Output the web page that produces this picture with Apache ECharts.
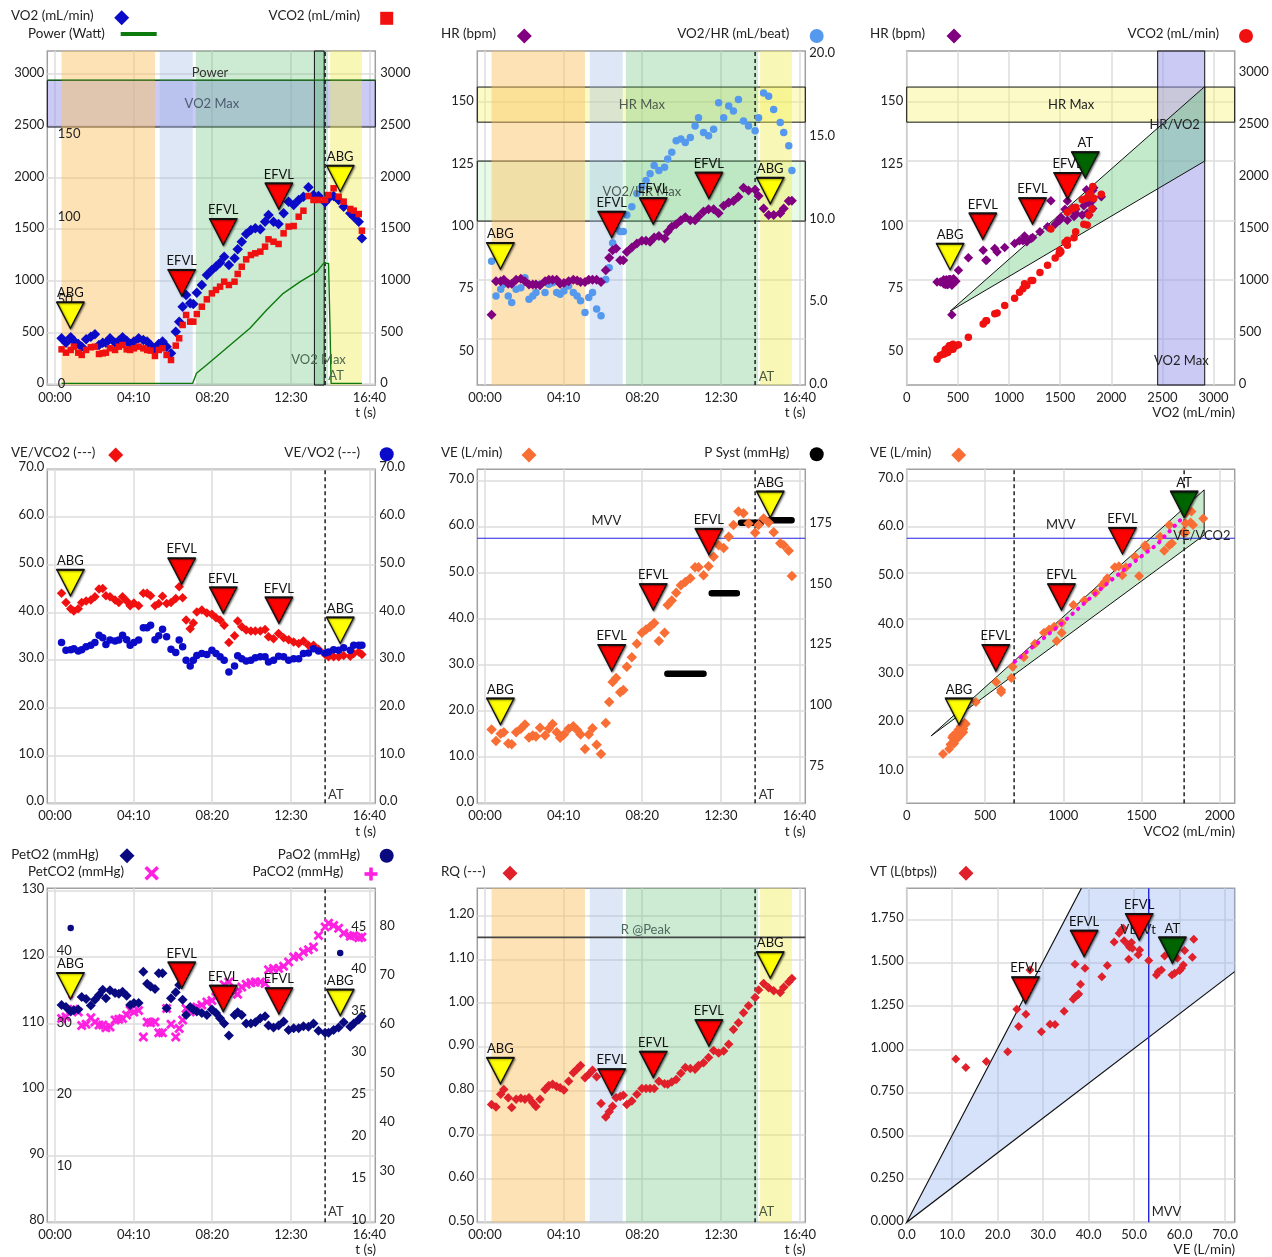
<!DOCTYPE html>
<html>
<head>
<meta charset="utf-8">
<title>CPET 9 panel</title>
<script src="https://cdn.jsdelivr.net/npm/echarts@6/dist/echarts.min.js"></script>
<style>
html, body { margin: 0; padding: 0; background: #fff; }
#container { width: 1272px; height: 1257px; }
</style>
</head>
<body>
<div id="container"></div>
<script>
var times = [21,35,50,60,74,85,99,114,127,140,152,162,175,191,203,215,228,239,251,266,281,293,304,318,330,342,355,369,384,395,406,417,430,440,451,467,483,499,512,525,538,553,571,581,594,608,623,637,653,668,679,695,711,727,743,759,775,790,806,822,838,859,870,886,902,918,939,950,966,976];
var vo2 = [442,400,452,419,387,361,432,458,481,377,400,400,442,400,419,452,419,387,410,442,426,410,377,329,387,410,361,297,506,603,748,861,781,774,884,958,1055,1103,1136,1174,1232,1152,1216,1303,1377,1452,1490,1507,1497,1571,1636,1571,1548,1652,1765,1732,1781,1813,1903,1829,1819,1758,1797,1819,1781,1716,1652,1619,1571,1410];
var vco2 = [335,303,329,361,303,281,329,355,361,290,297,303,345,329,361,377,335,329,345,361,345,329,323,271,329,345,281,232,371,442,571,668,603,603,677,748,819,877,910,942,990,958,990,1065,1135,1206,1248,1265,1281,1329,1400,1377,1355,1458,1523,1529,1619,1677,1819,1781,1781,1781,1829,1894,1813,1765,1694,1678,1645,1484];
var hr = [60.2,74.3,74.3,75,73.3,73.3,75,75.4,74.3,73,73,73,72.6,74.3,75,75,75,73.3,73.6,74.3,75,74.7,74,74,75,75,75,74,79,84.2,87.4,88.1,83.2,83.2,86.7,88.6,90.3,91.4,91.4,91,92.8,93.4,92.4,95.2,97.3,98.4,100.1,101.3,100.1,100.1,101.6,103.7,104.7,104.7,103,106.2,107.5,108.2,110,113.8,112.6,112.9,110.3,105,102.3,102.3,103,105,108.2,108.3];
var vo2hr = [7.4,5.3,5.7,6,5.3,4.9,5.7,5.8,6.4,5.1,5.3,5.5,6,5.5,6,6.1,5.5,5.4,5.6,5.9,5.5,5.3,5,4.3,5.2,5.5,4.5,4.1,6.3,7,8.5,9.4,9.2,9.2,10.2,10.7,11.5,11.9,12.3,12.7,13.2,12.9,13.1,13.6,14,14.7,14.8,14.6,14.9,15.6,16.1,15.2,15,15.4,17,16.1,16.8,16.5,17.2,15.9,15.6,15.3,16.1,17.6,17.4,16.6,15.8,15.2,14.4,12.9];
var veVco2 = [44,42.1,40.8,40.3,40.8,42.1,42.4,42.6,43.3,44.9,45,43.5,43.3,42.6,42.1,43.3,42.4,41.4,42,41.4,44,44,43.5,41.4,41.9,43.4,41.9,42.1,42.9,45.4,43.1,38.4,36.6,37.8,40.1,40.5,39.9,39.6,38.9,38.4,37.3,33.7,35.1,38.2,37,36.3,36.1,36.1,36.1,36.4,34.9,34.5,35.6,34.7,34.3,33.8,33.5,34,33.1,33.1,32.3,31.2,30.7,30.7,30.7,31,30.8,31.4,31.7,31.2];
var veVo2 = [33.7,32.1,32.2,32.4,31.9,32.2,32.8,33.1,33.7,35.2,34.7,33.3,34.2,34,34.2,35.2,34.3,33.1,33.7,34.2,36.8,36.8,37.3,34.3,35.1,36.5,34.9,32.3,31.6,34.2,32.8,30,28.8,30,31,31.4,31.2,32.1,31.4,30.7,30,27.5,28.8,30.9,30.3,29.8,30,30.5,30.7,30.7,29.6,30,30.8,30.7,30,30.3,30.3,31.4,31.5,32.4,31.9,31.5,31.7,32.2,32.1,32.6,32.1,33.1,33.1,33.1];
var ve = [16,13.5,15.1,15.4,13,12.8,15.4,16.2,17.1,14.3,14.7,14.5,16.4,14.7,16.2,17.2,15.4,14.2,14.9,16.2,16.7,15.9,14.9,11.8,14.9,16.3,12.7,10.7,17.4,22,26.3,27.2,24.1,24.6,29.6,31.7,34.6,37,37.7,38.3,39.1,35.2,37,43,44,45.7,47.3,48,48.8,51.2,51.2,49.5,51.4,53.5,56,55.4,57.8,60.4,63.3,62.9,60.7,58.7,60.4,61.8,60.9,58.8,56.4,56,54.8,49.3];
var petO2 = [112.8,112.5,111.8,112,112.1,114,113.7,112.7,113.6,114.3,115.1,113.8,115,114.6,114.5,114.8,114.2,112.8,113.1,113.1,117.8,116,115.6,115.2,117.6,117.6,112.3,113.8,114.7,115.8,113.6,111.3,112.5,112.1,111.8,111.6,111.3,112.1,111.6,110.8,110,108.2,111.3,111.7,111.3,110,110,110.2,110.8,111.1,109.7,109.4,109.7,110.3,109,109.3,109.3,109.6,109.5,110,108.9,108.6,108.6,109,109.4,110.2,109.5,110,110.6,111.1];
var petCo2 = [30.6,30.8,31.8,31.9,31.5,29.6,29.8,30.7,30.1,29.7,29.7,29.3,29.4,30.4,30.5,30.6,31.1,31.8,31.5,31.7,28,30.1,30,30.1,28.6,28.6,32,29.8,28,29.2,30.4,32,31.5,32,32.2,32.5,32.9,33.1,33.6,34.6,35.3,35.7,34.3,34,35,35.4,35.6,35.7,35.7,35.5,37.4,37.6,37.6,37.9,38.5,39.2,39.3,39.9,40.2,40.6,42.2,43.4,43.9,43.6,43.2,42.5,42.1,42.2,41.9,42];
var rq = [0.769,0.763,0.792,0.803,0.784,0.762,0.781,0.783,0.781,0.784,0.773,0.764,0.781,0.803,0.812,0.815,0.81,0.807,0.802,0.822,0.841,0.85,0.858,0.83,0.838,0.847,0.832,0.771,0.74,0.752,0.765,0.784,0.787,0.79,0.769,0.777,0.792,0.805,0.805,0.805,0.805,0.822,0.816,0.815,0.82,0.826,0.84,0.853,0.851,0.849,0.858,0.864,0.876,0.892,0.886,0.891,0.906,0.94,0.955,0.978,0.994,1.013,1.03,1.045,1.035,1.028,1.024,1.036,1.048,1.056];

// tidal volume panel has its own list of pairs
var vtVe = [10.8,13,17.5,22.2,24.2,24.6,26.2,27.1,29.6,31.5,32.6,34.6,36.6,37.1,37.6,37.8,38.2,37,39.2,42.9,44.1,45.6,46.7,47.2,47.6,47.8,48.7,48.8,49.4,49,49.6,50.9,51.2,53.2,54.9,55.3,56,56.7,58.3,58.9,59.5,60,60.4,60.8,61.1,62.8,63.1];
var vt = [0.944,0.896,0.93,0.986,1.233,1.133,1.204,1.46,1.102,1.146,1.144,1.221,1.29,1.306,1.315,1.321,1.377,1.493,1.47,1.42,1.485,1.622,1.672,1.691,1.701,1.629,1.604,1.522,1.618,1.591,1.585,1.547,1.575,1.514,1.431,1.45,1.46,1.541,1.431,1.441,1.527,1.456,1.47,1.489,1.572,1.533,1.637];

var powerT = [21,438,450,482,545,620,673,726,780,833,854,870,875,878,976];
var power = [0,0,6,11,21,33,44,54,61,67,72,72,30,0,0];
// blood pressure comes as four plateaus, null breaks the line between them
var pSystT = [580,695,700,721,801,806,814,877,885,898,975];
var pSyst = [112.8,112.8,null,146,146,null,175,175,null,176,176];
var paO2T = [50,907], paO2 = [79.5,74.4];
var paCo2T = [50], paCo2 = [36.7];
var regVco2 = [690,1000,1200,1400,1600,1746], regVe = [30.7,39.3,45.4,51,56.2,61.4];

// test phases and reference values
var phaseStart = [21,333,448,875], phaseEnd = [318,438,868,976];
var atTime = 859, atVco2 = [686,1772];
var vo2MaxBand = [2487,2939], vo2MaxX = [2454,2914], vo2MaxT = [825,856], powerMax = 182;
var hrMaxBand = [141.4,156.2], vo2hrMaxBand = [99.7,125], rPeak = 1.15, mvv = 57.5, mvvVt = 53.2;
var hrVo2Poly = [[424,61.7],[2914,156.4],[2914,125]];
var veVco2Poly = [[155,14.6],[1900,68],[1900,58.2]];
var veVtPoly = [[0,0],[38.4,1.932],[72.1,1.932],[72.1,1.45]];

// event triangles, one tip per panel
var eventT = [49,403,535,712,907], eventNames = ['ABG','EFVL','EFVL','EFVL','ABG'];
var eventVo2 = [539,852,1345,1690,1861], eventHr = [79.5,92.7,98.4,109.2,107];
var eventVeVco2 = [43.5,45.9,39.8,37.7,33.5], eventVe = [17.1,28.7,41.9,53.9,62];
var eventPetO2 = [113.7,115.3,111.8,111.4,111.2], eventRq = [0.816,0.79,0.83,0.902,1.057];
var xyNames = ['ABG','EFVL','EFVL','EFVL','AT'];
var ev3x = [424,744,1230,1573,1746], ev3y = [79.2,92,98.4,109,117.8];
var ev6x = [334,569,988,1378,1772], ev6y = [17.1,28.7,41.9,54.1,62];
var ev9x = [26.1,39,51.1,58.4], ev9y = [1.267,1.537,1.633,1.498], ev9Names = ['EFVL','EFVL','EFVL','AT'];

// tick labels
var timeTicks = [0,250,500,750,1000];
var flowTicks = [0,500,1000,1500,2000,2500,3000];
var powerTicks = [0,50,100,150,200];
var hrTicks = [50,75,100,125,150];
var o2pTicks = [0,5,10,15,20];
var pctTicks = [0,10,20,30,40,50,60,70];
var veTicks = [10,20,30,40,50,60,70];
var sysTicks = [75,100,125,150,175];
var vco2Ticks = [0,500,1000,1500,2000];
var petO2Ticks = [80,90,100,110,120,130];
var petCo2Ticks = [10,20,30,40];
var paO2Ticks = [20,30,40,50,60,70,80];
var paCo2Ticks = [10,15,20,25,30,35,40,45];
var rqTicks = [0.5,0.6,0.7,0.8,0.9,1,1.1,1.2];
var vtTicks = [0,0.25,0.5,0.75,1,1.25,1.5,1.75];
var veXTicks = [0,10,20,30,40,50,60,70];

var FONT = 'Lato', SIZE = 13, INK = '#222';
var T0 = -24.4, T1 = 1018.6;
var colX = [47.3,477.3,906.7], rowY = [51,469.3,888.3];
var RED = '#f01010', DIA_RED = '#e0202a', BLUE = '#0a0ac8', PURPLE = '#800080', SKY = '#5599ee', ORANGE = '#f86e35', NAVY = '#0a0a80', MAGENTA = '#ff20e0';
var CROSS = 'path://M2 0L5 3L8 0L10 2L7 5L10 8L8 10L5 7L2 10L0 8L3 5L0 2Z';
var LAVENDER = 'rgba(150,150,235,.5)', YELLOWBAND = 'rgba(248,245,110,.38)';
var phaseColors = ['rgba(251,190,90,.45)','rgba(150,180,225,.32)','rgba(90,190,110,.3)','rgba(240,235,70,.4)'];

var grids = [], xAxes = [], yAxes = [], series = [], graphics = [];
var gridLine = { color: '#dcdcdc', width: 1.5 };

function zip(xs, ys) { return xs.map(function (x, i) { return [x, ys[i]]; }); }
function mmss(v) {
    var m = Math.floor(v / 60), s = v % 60;
    return (m < 10 ? '0' : '') + m + ':' + (s < 10 ? '0' : '') + s;
}

function addPanel(col, row, x) {
    var g = grids.length;
    grids.push({ left: colX[col], top: rowY[row], width: 328, height: 334, show: true, borderColor: '#a0a0a0', borderWidth: 1.5, backgroundColor: 'transparent' });
    xAxes.push({
        gridIndex: g, type: 'value', position: 'bottom', min: x.min, max: x.max,
        axisLine: { show: false, onZero: false },
        axisTick: { show: false, customValues: x.values },
        splitLine: { show: true, lineStyle: gridLine },
        axisLabel: { customValues: x.values, margin: 6, color: INK, fontFamily: FONT, fontSize: SIZE, formatter: x.fmt }
    });
    return g;
}
function addY(g, o) {
    var label = {
        show: !o.hide, customValues: o.values, inside: !!o.inside, margin: o.margin || 4,
        color: INK, fontFamily: FONT, fontSize: SIZE,
        formatter: function (v) { return v.toFixed(o.dec || 0); }
    };
    // labels of some panels sit a little above their grid line
    if (o.shift) { label.verticalAlign = 'bottom'; label.lineHeight = o.shift * 2; }
    yAxes.push({
        gridIndex: g, type: 'value', position: o.side || 'left', min: o.min, max: o.max,
        z: o.inside ? 4 : 0,  // inner scales stay readable over the coloured phases
        axisLine: { show: false, onZero: false },
        axisTick: { show: false, customValues: o.values },
        splitLine: { show: !!o.grid, lineStyle: gridLine },
        axisLabel: label
    });
    return yAxes.length - 1;
}
function timeX() { return { min: T0, max: T1, values: timeTicks, fmt: mmss }; }

function marks(g, y, xs, ys, symbol, size, color) {
    series.push({ type: 'scatter', xAxisIndex: g, yAxisIndex: y, data: zip(xs, ys), symbol: symbol, symbolSize: size, itemStyle: { color: color, opacity: 1 }, z: 3, silent: true });
}
// polygon or polyline given in data values
function shape(g, y, verts, st) {
    series.push({
        type: 'custom', xAxisIndex: g, yAxisIndex: y, data: verts, z: st.z || 1, silent: true,
        renderItem: function (params, api) {
            if (params.dataIndex !== 0) return null;
            var pts = verts.map(function (v) { return api.coord(v); });
            return {
                type: st.open ? 'polyline' : 'polygon', shape: { points: pts },
                style: { fill: st.open ? null : st.fill, stroke: st.stroke || null, lineWidth: st.width || 1, lineDash: st.dash || null }
            };
        }
    });
}
function note(g, y, xv, yv, text, color) {
    series.push({
        type: 'custom', xAxisIndex: g, yAxisIndex: y, data: [[xv, yv]], z: 5, silent: true,
        renderItem: function (params, api) {
            var p = api.coord([api.value(0), api.value(1)]);
            return { type: 'text', x: p[0], y: p[1], style: { text: text, align: 'center', verticalAlign: 'middle', fontFamily: FONT, fontSize: SIZE, fill: color || '#333' } };
        }
    });
}
function events(g, y, xs, ys, names) {
    series.push({
        type: 'custom', xAxisIndex: g, yAxisIndex: y, data: zip(xs, ys), z: 6, silent: true,
        renderItem: function (params, api) {
            var p = api.coord([api.value(0), api.value(1)]);
            var name = names[params.dataIndex];
            var fill = name === 'ABG' ? '#ffff00' : name === 'AT' ? '#006400' : '#ff0000';
            var x = p[0], t = p[1];
            return {
                type: 'group', children: [
                    { type: 'polygon', shape: { points: [[x - 13.5, t - 26], [x + 13.5, t - 26], [x, t]] }, style: { fill: fill, stroke: '#111', lineWidth: 1.3, shadowBlur: 2, shadowColor: 'rgba(0,0,0,.5)', shadowOffsetX: 1, shadowOffsetY: 1 } },
                    { type: 'line', shape: { x1: x - 14, y1: t - 26, x2: x + 14, y2: t - 26 }, style: { stroke: '#111', lineWidth: 2 } },
                    { type: 'text', x: x, y: t - 35, style: { text: name, align: 'center', verticalAlign: 'middle', fontFamily: FONT, fontSize: SIZE, fill: '#111' } }
                ]
            };
        }
    });
}
function phases(g, y, lo, hi) {
    phaseStart.forEach(function (s, i) {
        shape(g, y, [[s, lo], [phaseEnd[i], lo], [phaseEnd[i], hi], [s, hi]], { fill: phaseColors[i] });
    });
}
function hBand(g, y, lo, hi, fill) {
    shape(g, y, [[T0, lo], [T1, lo], [T1, hi], [T0, hi]], { fill: fill, stroke: '#111' });
}
function atLine(g, y, lo, hi) {
    shape(g, y, [[atTime, lo], [atTime, hi]], { open: true, stroke: '#111', width: 1.4, dash: [4, 3], z: 2 });
}
function hLine(g, y, x0, x1, v, color, w) {
    shape(g, y, [[x0, v], [x1, v]], { open: true, stroke: color, width: w || 1.2, z: 2 });
}

// legend and axis titles sit outside the plots, plain graphic elements
function text(x, y, s, align) {
    graphics.push({ type: 'text', x: x, y: y, silent: true, style: { text: s, align: align || 'left', verticalAlign: 'middle', fontFamily: FONT, fontSize: 13.4, fill: INK } });
}
function icon(kind, x, y, color) {
    if (kind === 'diamond') {
        graphics.push({ type: 'polygon', silent: true, shape: { points: [[x - 7.5, y], [x, y - 7.5], [x + 7.5, y], [x, y + 7.5]] }, style: { fill: color } });
    } else if (kind === 'square') {
        graphics.push({ type: 'rect', silent: true, shape: { x: x - 6.5, y: y - 6.5, width: 13, height: 13 }, style: { fill: color } });
    } else if (kind === 'circle') {
        graphics.push({ type: 'circle', silent: true, shape: { cx: x, cy: y, r: 7 }, style: { fill: color } });
    } else if (kind === 'bar') {
        graphics.push({ type: 'rect', silent: true, shape: { x: x, y: y - 2, width: 36, height: 4 }, style: { fill: color } });
    } else if (kind === 'cross') {
        graphics.push({ type: 'polyline', silent: true, shape: { points: [[x - 6, y - 6], [x + 6, y + 6]] }, style: { stroke: color, lineWidth: 3.6 } });
        graphics.push({ type: 'polyline', silent: true, shape: { points: [[x - 6, y + 6], [x + 6, y - 6]] }, style: { stroke: color, lineWidth: 3.6 } });
    } else if (kind === 'plus') {
        graphics.push({ type: 'polyline', silent: true, shape: { points: [[x - 6.5, y], [x + 6.5, y]] }, style: { stroke: color, lineWidth: 3.6 } });
        graphics.push({ type: 'polyline', silent: true, shape: { points: [[x, y - 6.5], [x, y + 6.5]] }, style: { stroke: color, lineWidth: 3.6 } });
    }
}

// ---- 1. VO2, VCO2, power against time
var g = addPanel(0, 0, timeX());
var yV = addY(g, { min: -10, max: 3223, values: flowTicks, grid: true, margin: 3, shift: 0.8 });
addY(g, { min: -10, max: 3223, values: flowTicks, side: 'right', margin: 5, shift: 0.8 });
var yP = addY(g, { min: -1, max: 199.4, values: powerTicks, inside: true, margin: 10.5 });
hBand(g, yV, vo2MaxBand[0], vo2MaxBand[1], LAVENDER);  // the phases lie over the band
phases(g, yV, -10, 3223);
shape(g, yV, [[vo2MaxT[0], -10], [vo2MaxT[1], -10], [vo2MaxT[1], 3223], [vo2MaxT[0], 3223]], { fill: 'rgba(110,190,140,.4)', stroke: '#111' });
hLine(g, yP, T0, T1, powerMax, '#0c7a0c', 1.2);
atLine(g, yV, -10, 3223);
series.push({ type: 'line', xAxisIndex: g, yAxisIndex: yP, data: zip(powerT, power), symbol: 'none', lineStyle: { color: '#0c7a0c', width: 1.4 }, z: 2, silent: true });
note(g, yV, 493, 3013, 'Power');
note(g, yV, 499, 2710, 'VO2 Max', '#4d5a70');
note(g, yV, 838, 232, 'VO2 Max', '#4a6a50');
note(g, yV, 894, 81, 'AT', '#4a6a50');
marks(g, yV, times, vo2, 'diamond', 10.5, BLUE);
marks(g, yV, times, vco2, 'rect', 6.5, RED);
events(g, yV, eventT, eventVo2, eventNames);

// ---- 2. HR and O2 pulse against time
g = addPanel(1, 0, timeX());
var yH = addY(g, { min: 30.6, max: 171.4, values: hrTicks, grid: true, hide: true });
addY(g, { min: 36.2, max: 170, values: hrTicks, margin: 3.5 });
var yO = addY(g, { min: -0.1, max: 20.14, values: o2pTicks, side: 'right', margin: 4, dec: 1 });
hBand(g, yH, hrMaxBand[0], hrMaxBand[1], YELLOWBAND);
hBand(g, yH, vo2hrMaxBand[0], vo2hrMaxBand[1], 'rgba(150,235,150,.22)');
phases(g, yH, 30.6, 171.4);
atLine(g, yH, 30.6, 171.4);
note(g, yH, 499, 148.7, 'HR Max', '#4d5a50');
note(g, yH, 499, 112, 'VO2/HR Max', '#4d5a50');
note(g, yH, 895, 34.2, 'AT', '#4a5a40');
marks(g, yO, times, vo2hr, 'circle', 7.5, SKY);
marks(g, yH, times, hr, 'diamond', 10, PURPLE);
events(g, yH, eventT, eventHr, eventNames);

// ---- 3. HR and VCO2 against VO2
g = addPanel(2, 0, { min: 0, max: 3207, values: flowTicks, fmt: function (v) { return v; } });
yH = addY(g, { min: 30.6, max: 171.4, values: hrTicks, grid: true, hide: true });
addY(g, { min: 36.2, max: 170, values: hrTicks, margin: 3.5 });
var yC = addY(g, { min: -16, max: 3196, values: flowTicks, side: 'right', margin: 4 });
shape(g, yH, [[0, hrMaxBand[0]], [3207, hrMaxBand[0]], [3207, hrMaxBand[1]], [0, hrMaxBand[1]]], { fill: YELLOWBAND, stroke: '#111' });
shape(g, yH, [[vo2MaxX[0], 30.6], [vo2MaxX[1], 30.6], [vo2MaxX[1], 171.4], [vo2MaxX[0], 171.4]], { fill: LAVENDER, stroke: '#111' });
shape(g, yH, hrVo2Poly, { fill: 'rgba(100,200,120,.38)', stroke: '#111', z: 2 });
note(g, yH, 1608, 148.7, 'HR Max', '#222');
note(g, yH, 2620, 140.4, 'HR/VO2', '#222');
note(g, yH, 2685, 40.8, 'VO2 Max', '#222');
marks(g, yH, vo2, hr, 'diamond', 9.5, PURPLE);
marks(g, yC, vo2, vco2, 'circle', 7.5, RED);
events(g, yH, ev3x, ev3y, xyNames);

// ---- 4. ventilatory equivalents
g = addPanel(0, 1, timeX());
var y4 = addY(g, { min: 0, max: 70, values: pctTicks, grid: true, margin: 3, shift: 2, dec: 1 });
addY(g, { min: 0, max: 70, values: pctTicks, side: 'right', margin: 4, shift: 2, dec: 1 });
atLine(g, y4, 0, 70);
note(g, y4, 893, 1.8, 'AT');
marks(g, y4, times, veVco2, 'diamond', 9.5, RED);
marks(g, y4, times, veVo2, 'circle', 7.5, BLUE);
events(g, y4, eventT, eventVeVco2, eventNames);

// ---- 5. VE and systolic pressure
g = addPanel(1, 1, timeX());
var y5 = addY(g, { min: 0, max: 72.46, values: pctTicks, grid: true, margin: 3, shift: 1.5, dec: 1 });
var yS = addY(g, { min: 59.5, max: 197, values: sysTicks, side: 'right', margin: 4 });
hLine(g, y5, T0, T1, mvv, '#2222dd', 1.2);
atLine(g, y5, 0, 72.46);
note(g, y5, 386, 61.2, 'MVV', '#222');
note(g, y5, 895, 1.9, 'AT');
series.push({ type: 'line', xAxisIndex: g, yAxisIndex: yS, data: zip(pSystT, pSyst), symbol: 'none', connectNulls: false, lineStyle: { color: '#000', width: 6.5, cap: 'round' }, z: 3, silent: true });
marks(g, y5, times, ve, 'diamond', 10.5, ORANGE);
events(g, y5, eventT, eventVe, eventNames);

// ---- 6. VE against VCO2
g = addPanel(2, 1, { min: 0, max: 2095, values: vco2Ticks, fmt: function (v) { return v; } });
var y6 = addY(g, { min: 0, max: 72.46, values: veTicks, grid: true, hide: true });
addY(g, { min: 3.15, max: 71.7, values: veTicks, margin: 3, dec: 1 });
shape(g, y6, veVco2Poly, { fill: 'rgba(90,190,110,.32)', stroke: '#111', z: 1 });
hLine(g, y6, 0, 2095, mvv, '#2222dd', 1.2);
atVco2.forEach(function (v) { shape(g, y6, [[v, 0], [v, 72.46]], { open: true, stroke: '#111', width: 1.4, dash: [4, 3], z: 2 }); });
note(g, y6, 984, 60.4, 'MVV', '#222');
note(g, y6, 1885, 58, 'VE/VCO2', '#222');
marks(g, y6, vco2, ve, 'diamond', 10, ORANGE);
series.push({ type: 'line', xAxisIndex: g, yAxisIndex: y6, data: zip(regVco2, regVe), symbol: 'none', lineStyle: { color: '#ff00e0', width: 4, type: [0.5, 7], cap: 'round' }, z: 4, silent: true });
events(g, y6, ev6x, ev6y, xyNames);

// ---- 7. end tidal and arterial gases
g = addPanel(0, 2, timeX());
var y7 = addY(g, { min: 80, max: 130.4, values: petO2Ticks, grid: true, margin: 3, shift: 2 });
var yCo = addY(g, { min: 2.1, max: 48.8, values: petCo2Ticks, inside: true, margin: 9.5 });
var yA = addY(g, { min: 19.46, max: 87.6, values: paO2Ticks, side: 'right', margin: 4.3 });
var yB = addY(g, { min: 9.68, max: 49.6, values: paCo2Ticks, side: 'right', inside: true, margin: 9 });
atLine(g, y7, 80, 130.4);
note(g, y7, 893, 81.6, 'AT');
marks(g, yCo, times, petCo2, CROSS, 10, MAGENTA);
marks(g, yB, paCo2T, paCo2, 'circle', 5, MAGENTA);
marks(g, y7, times, petO2, 'diamond', 10, NAVY);
marks(g, yA, paO2T, paO2, 'circle', 6.5, NAVY);
events(g, y7, eventT, eventPetO2, eventNames);

// ---- 8. RQ
g = addPanel(1, 2, timeX());
var y8 = addY(g, { min: 0.5, max: 1.262, values: rqTicks, grid: true, margin: 3, shift: 1.7, dec: 2 });
phases(g, y8, 0.5, 1.262);
hLine(g, y8, T0, T1, rPeak, '#444', 1.6);
atLine(g, y8, 0.5, 1.262);
note(g, y8, 511, 1.168, 'R @Peak', '#4d6a60');
note(g, y8, 895, 0.524, 'AT', '#4a5a40');
marks(g, y8, times, rq, 'diamond', 9.5, DIA_RED);
events(g, y8, eventT, eventRq, eventNames);

// ---- 9. VT against VE
g = addPanel(2, 2, { min: 0, max: 72.1, values: veXTicks, fmt: function (v) { return v.toFixed(1); } });
var y9 = addY(g, { min: 0, max: 1.932, values: vtTicks, grid: true, margin: 3, shift: 1.7, dec: 3 });
shape(g, y9, veVtPoly, { fill: 'rgba(140,175,240,.36)' });
shape(g, y9, [veVtPoly[1], veVtPoly[0], veVtPoly[3]], { open: true, stroke: '#111', width: 1.2, z: 2 });
shape(g, y9, [[mvvVt, 0], [mvvVt, 1.932]], { open: true, stroke: '#2222dd', width: 1.4, z: 2 });
note(g, y9, 57.1, 0.06, 'MVV', '#222');
note(g, y9, 50.9, 1.69, 'VE/Vt', '#222');
marks(g, y9, vtVe, vt, 'diamond', 9, DIA_RED);
events(g, y9, ev9x, ev9y, ev9Names);

// ---- legends
text(11, 16, 'VO2 (mL/min)'); icon('diamond', 121.7, 17.7, BLUE);
text(360, 16, 'VCO2 (mL/min)', 'right'); icon('square', 386.7, 18.3, RED);
text(28, 34, 'Power (Watt)'); icon('bar', 120.7, 34, '#0c7a0c');
text(441, 34, 'HR (bpm)'); icon('diamond', 524.3, 36, PURPLE);
text(789.3, 34, 'VO2/HR (mL/beat)', 'right'); icon('circle', 816.7, 36, SKY);
text(870, 34, 'HR (bpm)'); icon('diamond', 954, 36, PURPLE);
text(1219, 34, 'VCO2 (mL/min)', 'right'); icon('circle', 1246, 36, RED);
text(11, 452.7, 'VE/VCO2 (---)'); icon('diamond', 115.7, 455, RED);
text(360, 452.7, 'VE/VO2 (---)', 'right'); icon('circle', 386.7, 454.3, BLUE);
text(441, 452.7, 'VE (L/min)'); icon('diamond', 529, 455, ORANGE);
text(789.3, 452.7, 'P Syst (mmHg)', 'right'); icon('circle', 816.7, 454.3, '#000');
text(870, 452.7, 'VE (L/min)'); icon('diamond', 958.7, 455, ORANGE);
text(11.3, 854.3, 'PetO2 (mmHg)'); icon('diamond', 127, 855.7, NAVY);
text(360, 854.3, 'PaO2 (mmHg)', 'right'); icon('circle', 386.7, 855.7, NAVY);
text(28, 871.7, 'PetCO2 (mmHg)'); icon('cross', 151.7, 873.3, MAGENTA);
text(343.3, 871.7, 'PaCO2 (mmHg)', 'right'); icon('plus', 371, 874, MAGENTA);
text(441, 871.7, 'RQ (---)'); icon('diamond', 510, 873.3, DIA_RED);
text(870, 871.7, 'VT (L(btps))'); icon('diamond', 966, 873.3, DIA_RED);

// x axis titles
text(376, 413, 't (s)', 'right');
text(805.5, 413, 't (s)', 'right');
text(1235, 413, 'VO2 (mL/min)', 'right');
text(376, 831.7, 't (s)', 'right');
text(805.5, 831.7, 't (s)', 'right');
text(1235, 831.7, 'VCO2 (mL/min)', 'right');
text(376, 1250, 't (s)', 'right');
text(805.5, 1250, 't (s)', 'right');
text(1235, 1250, 'VE (L/min)', 'right');

var myChart = echarts.init(document.getElementById('container'), null, { renderer: 'canvas' });
myChart.setOption({
    animation: false,
    backgroundColor: '#fff',
    grid: grids,
    xAxis: xAxes,
    yAxis: yAxes,
    series: series,
    graphic: { elements: graphics }
});
</script>
</body>
</html>
